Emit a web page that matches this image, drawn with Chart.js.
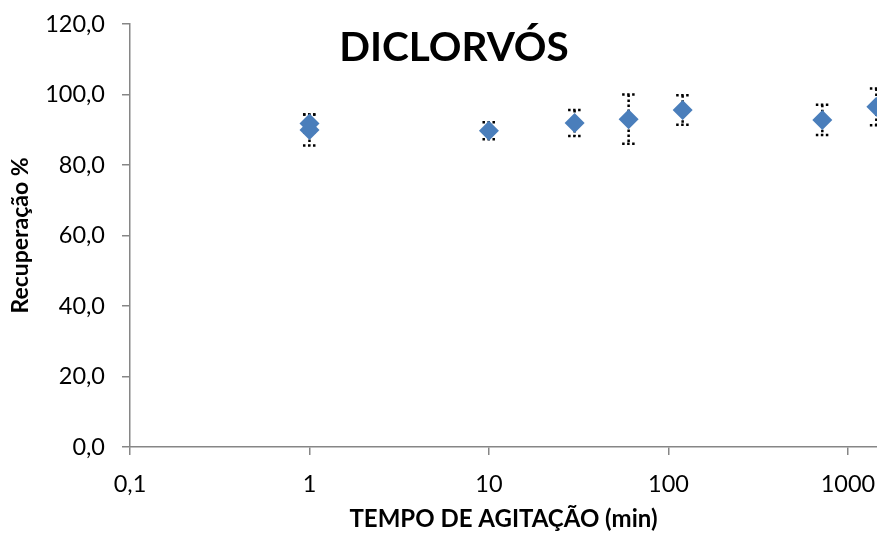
<!DOCTYPE html>
<html>
<head>
<meta charset="utf-8">
<script src="https://cdn.jsdelivr.net/npm/chart.js@4/dist/chart.umd.min.js"></script>
<style>
  html, body { margin: 0; padding: 0; background: #ffffff; overflow: hidden; }
  #wrap { width: 877px; height: 534px; }
</style>
</head>
<body>
<div id="wrap"><canvas id="chart"></canvas></div>
<script>
// Agitation time (min) and recovery (%) with standard deviations
const xValues  = [1, 1, 10, 30, 60, 120, 720, 1440];
const recovery = [91.8, 89.9, 89.7, 91.9, 93.0, 95.6, 92.8, 96.5];
const errors   = [2.5, 4.4, 2.4, 3.7, 7.0, 4.2, 4.3, 5.2];

const xTickValues = [0.1, 1, 10, 100, 1000];
const xTickLabels = ['0,1', '1', '10', '100', '1000'];
const yTickValues = [0, 20, 40, 60, 80, 100, 120];
const yTickLabels = ['0,0', '20,0', '40,0', '60,0', '80,0', '100,0', '120,0'];

const chartTitle = 'DICLORVÓS';
const FONT = 'Lato, "Open Sans", sans-serif';
const AXIS_GREY = '#868686';

// Dotted vertical error bars with dotted caps
const errorBars = {
  id: 'errorBars',
  beforeDatasetsDraw(chart) {
    const { ctx, scales: { x, y } } = chart;
    ctx.save();
    ctx.strokeStyle = '#000000';
    ctx.lineWidth = 2.5;
    ctx.setLineDash([2.5, 2.5]);
    xValues.forEach((xv, i) => {
      const px = x.getPixelForValue(xv);
      const top = y.getPixelForValue(recovery[i] + errors[i]);
      const bot = y.getPixelForValue(recovery[i] - errors[i]);
      const cap = 6.5;
      ctx.beginPath();
      ctx.moveTo(px, top); ctx.lineTo(px, bot);
      ctx.moveTo(px - cap, top); ctx.lineTo(px + cap, top);
      ctx.moveTo(px - cap, bot); ctx.lineTo(px + cap, bot);
      ctx.stroke();
    });
    ctx.restore();
  }
};

// Title drawn over the plot area
const overlayTitle = {
  id: 'overlayTitle',
  afterDraw(chart) {
    const { ctx } = chart;
    ctx.save();
    ctx.fillStyle = '#000000';
    ctx.font = 'bold 40.5px ' + FONT;
    ctx.textAlign = 'center';
    ctx.textBaseline = 'middle';
    ctx.fillText(chartTitle, 454, 48);
    ctx.restore();
  }
};

new Chart(document.getElementById('chart'), {
  type: 'scatter',
  data: {
    datasets: [{
      data: xValues.map((xv, i) => ({ x: xv, y: recovery[i] })),
      pointStyle: 'rectRot',
      pointRadius: 10,
      pointHoverRadius: 10,
      backgroundColor: '#4A7EBB',
      borderColor: '#4A7EBB',
      borderWidth: 0,
      clip: false
    }]
  },
  options: {
    responsive: true,
    maintainAspectRatio: false,
    animation: false,
    layout: { autoPadding: false, padding: { top: 24, right: 0, left: 0, bottom: 0 } },
    plugins: {
      legend: { display: false },
      tooltip: { enabled: false },
      title: { display: false }
    },
    scales: {
      x: {
        type: 'logarithmic',
        min: 0.1,
        max: 1452,
        afterBuildTicks(scale) {
          scale.ticks = xTickValues.map(v => ({ value: v }));
        },
        afterFit(scale) {
          scale.height = 87;
          scale.paddingLeft = 0;
          scale.paddingRight = 0;
        },
        ticks: {
          autoSkip: false,
          maxRotation: 0,
          padding: 15,
          color: '#000000',
          font: { family: FONT, size: 23.5 },
          callback(value) {
            const k = xTickValues.indexOf(value);
            return k >= 0 ? xTickLabels[k] : '';
          }
        },
        grid: {
          drawOnChartArea: false,
          drawTicks: true,
          tickLength: 8,
          color: AXIS_GREY,
          lineWidth: 1.5
        },
        border: { display: true, color: AXIS_GREY, width: 1.5 },
        title: {
          display: true,
          text: 'TEMPO DE AGITAÇÃO (min)',
          color: '#000000',
          font: { family: FONT, size: 24, weight: 'bold' },
          padding: { top: 0, bottom: 0 }
        }
      },
      y: {
        min: 0,
        max: 120,
        afterBuildTicks(scale) {
          scale.ticks = yTickValues.map(v => ({ value: v }));
        },
        afterFit(scale) {
          scale.width = 130;
          scale.paddingTop = 0;
          scale.paddingBottom = 0;
        },
        ticks: {
          padding: 17,
          color: '#000000',
          font: { family: FONT, size: 23.5 },
          callback(value) {
            const k = yTickValues.indexOf(value);
            return k >= 0 ? yTickLabels[k] : '';
          }
        },
        grid: {
          drawOnChartArea: false,
          drawTicks: true,
          tickLength: 8,
          color: AXIS_GREY,
          lineWidth: 1.5
        },
        border: { display: true, color: AXIS_GREY, width: 1.5 },
        title: {
          display: true,
          text: 'Recuperação %',
          color: '#000000',
          font: { family: FONT, size: 23, weight: 'bold' },
          padding: { top: 7, bottom: 0 }
        }
      }
    }
  },
  plugins: [errorBars, overlayTitle]
});
</script>
</body>
</html>
